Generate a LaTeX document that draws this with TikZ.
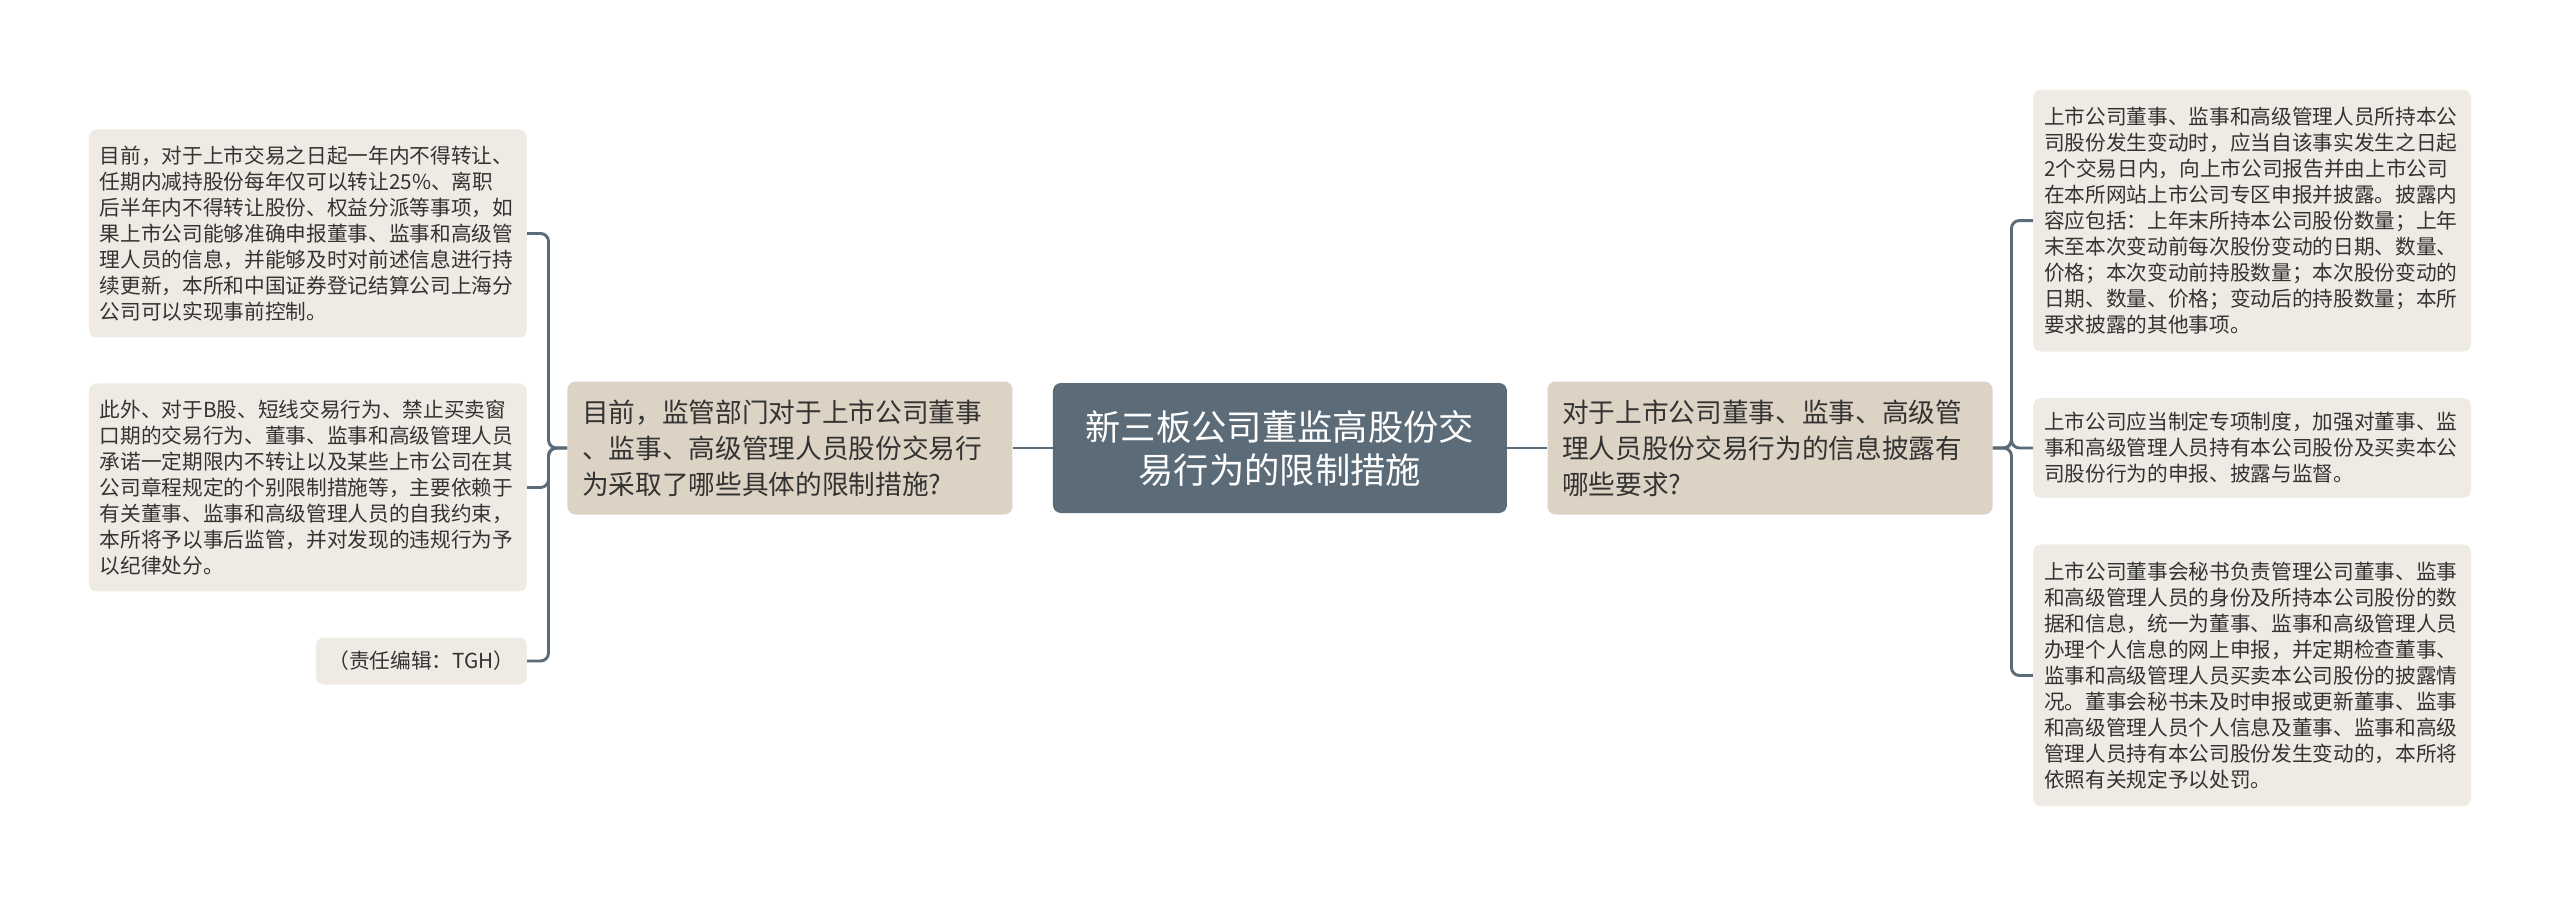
\documentclass[tikz,border=0pt]{standalone}
\usepackage{fontspec}
\setmainfont{Noto Sans CJK SC}
\usetikzlibrary{positioning}
\definecolor{rootfill}{HTML}{5B6B78}
\definecolor{topicfill}{HTML}{DDD3C5}
\definecolor{leaffill}{HTML}{EFEBE4}
\definecolor{inkgray}{HTML}{333333}
\tikzset{
    root/.style={rectangle,rounded corners=6pt,fill=rootfill,text=white,align=center,minimum width=340.5pt,minimum height=97.5pt,font=\fontsize{26.5pt}{32.25pt}\selectfont},
    topic/.style={rectangle,rounded corners=6pt,fill=topicfill,text=inkgray,align=left,text width=311.75pt,inner xsep=11pt,minimum height=99.75pt,font=\fontsize{20pt}{27pt}\selectfont},
    leaf/.style={rectangle,rounded corners=6pt,fill=leaffill,text=inkgray,align=left,font=\fontsize{15.5pt}{19.5pt}\selectfont},
    wide/.style={text width=312pt,inner xsep=8.25pt},
    link/.style={-,line width=2.2pt,draw=rootfill,rounded corners=6pt}
}

\begin{document}
\begin{tikzpicture}
    \useasboundingbox (-960pt,-336.75pt) rectangle (960pt,336pt);

    \node[root]  (root)   at (0,0)                 {新三板公司董监高股份交\\易行为的限制措施};
    \node[topic] (topicL) [left=30pt of root]      {目前，监管部门对于上市公司董事\\、监事、高级管理人员股份交易行\\为采取了哪些具体的限制措施?};
    \node[topic] (topicR) [right=30pt of root]     {对于上市公司董事、监事、高级管\\理人员股份交易行为的信息披露有\\哪些要求?};

    % left leaves
    \node[leaf,wide] (leafA) [left=30pt of topicL,yshift=160.9pt,minimum height=156pt]
        {目前，对于上市交易之日起一年内不得转让、\\任期内减持股份每年仅可以转让25\%、离职\\后半年内不得转让股份、权益分派等事项，如\\果上市公司能够准确申报董事、监事和高级管\\理人员的信息，并能够及时对前述信息进行持\\续更新，本所和中国证券登记结算公司上海分\\公司可以实现事前控制。};
    \node[leaf,wide] (leafB) [left=30pt of topicL,yshift=-29.6pt,minimum height=156pt]
        {此外、对于B股、短线交易行为、禁止买卖窗\\口期的交易行为、董事、监事和高级管理人员\\承诺一定期限内不转让以及某些上市公司在其\\公司章程规定的个别限制措施等，主要依赖于\\有关董事、监事和高级管理人员的自我约束，\\本所将予以事后监管，并对发现的违规行为予\\以纪律处分。};
    \node[leaf] (leafC) [left=30pt of topicL,yshift=-159.75pt,minimum width=158.25pt,minimum height=35.25pt]
        {（责任编辑：TGH）};

    % right leaves
    \node[leaf,wide] (leafD) [right=30pt of topicR,yshift=170.6pt,minimum height=196.5pt]
        {上市公司董事、监事和高级管理人员所持本公\\司股份发生变动时，应当自该事实发生之日起\\2个交易日内，向上市公司报告并由上市公司\\在本所网站上市公司专区申报并披露。披露内\\容应包括：上年末所持本公司股份数量；上年\\末至本次变动前每次股份变动的日期、数量、\\价格；本次变动前持股数量；本次股份变动的\\日期、数量、价格；变动后的持股数量；本所\\要求披露的其他事项。};
    \node[leaf,wide] (leafE) [right=30pt of topicR,minimum height=75pt]
        {上市公司应当制定专项制度，加强对董事、监\\事和高级管理人员持有本公司股份及买卖本公\\司股份行为的申报、披露与监督。};
    \node[leaf,wide] (leafF) [right=30pt of topicR,yshift=-170.6pt,minimum height=196.5pt]
        {上市公司董事会秘书负责管理公司董事、监事\\和高级管理人员的身份及所持本公司股份的数\\据和信息，统一为董事、监事和高级管理人员\\办理个人信息的网上申报，并定期检查董事、\\监事和高级管理人员买卖本公司股份的披露情\\况。董事会秘书未及时申报或更新董事、监事\\和高级管理人员个人信息及董事、监事和高级\\管理人员持有本公司股份发生变动的，本所将\\依照有关规定予以处罚。};

    \draw[link] (root) -- (topicL);
    \draw[link] (root) -- (topicR);
    \foreach \leafname in {leafA,leafB,leafC}
        \draw[link] (topicL.west) -- ++(-14pt,0) |- (\leafname.east);
    \foreach \leafname in {leafD,leafE,leafF}
        \draw[link] (topicR.east) -- ++(14pt,0) |- (\leafname.west);
\end{tikzpicture}
\end{document}
